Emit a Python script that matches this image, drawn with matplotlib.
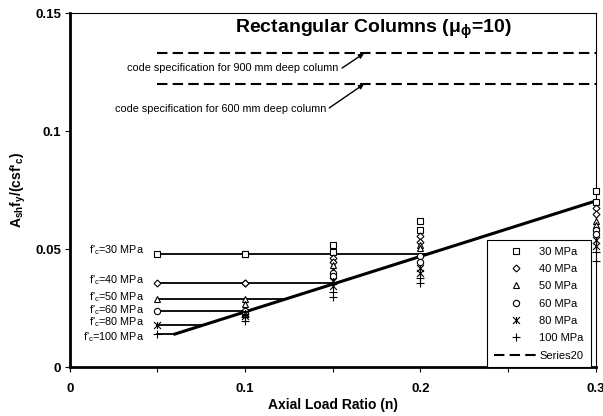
import matplotlib
matplotlib.use("Agg")
import matplotlib.pyplot as plt
from matplotlib.path import Path

plt.rcParams["font.family"] = ["Liberation Sans", "DejaVu Sans"]
plt.rcParams["mathtext.fontset"] = "custom"
plt.rcParams["mathtext.rm"] = "Liberation Sans"
plt.rcParams["mathtext.it"] = "Liberation Sans"
plt.rcParams["mathtext.bf"] = "Liberation Sans:bold"

# ── Data ──────────────────────────────────────────────────────────────────────
FC_LABELS = ["30 MPa", "40 MPa", "50 MPa", "60 MPa", "80 MPa", "100 MPa"]
FC_TEXT = ["f'$_c$=30 MPa", "f'$_c$=40 MPa", "f'$_c$=50 MPa",
           "f'$_c$=60 MPa", "f'$_c$=80 MPa", "f'$_c$=100 MPa"]

# horizontal (strength-governed) part of each curve
LINE_START = 0.05
LINE_LEVEL = [0.0479, 0.0357, 0.0288, 0.0240, 0.0178, 0.0141]
LINE_END = [0.204, 0.152, 0.123, 0.102, 0.076, 0.060]
LABEL_Y = [0.0498, 0.0370, 0.0299, 0.0243, 0.0190, 0.0130]

# axial-load governed line
DIAG_N = [0.06, 0.3]
DIAG_Y = [0.0141, 0.0705]

# code specification (Series20)
SPEC_N = [0.05, 0.3]
SPEC_900 = 0.133
SPEC_600 = 0.120

# computed points
N_PTS = [0.05, 0.1, 0.1, 0.15, 0.15, 0.2, 0.2, 0.3, 0.3]
Y_30 = [0.0479, 0.0479, 0.0479, 0.0520, 0.0490, 0.0618, 0.0582, 0.0748, 0.0700]
Y_40 = [0.0357, 0.0357, 0.0357, 0.0463, 0.0445, 0.0555, 0.0530, 0.0675, 0.0650]
Y_50 = [0.0288, 0.0288, 0.0268, 0.0433, 0.0410, 0.0518, 0.0505, 0.0620, 0.0605]
Y_60 = [0.0240, 0.0240, 0.0228, 0.0400, 0.0385, 0.0470, 0.0445, 0.0580, 0.0565]
Y_80 = [0.0178, 0.0232, 0.0218, 0.0365, 0.0345, 0.0420, 0.0400, 0.0540, 0.0515]
Y_100 = [0.0141, 0.0212, 0.0195, 0.0320, 0.0298, 0.0378, 0.0358, 0.0490, 0.0450]
Y_ALL = [Y_30, Y_40, Y_50, Y_60, Y_80, Y_100]

# star marker: x with a vertical bar
STAR = Path([(-1, -1), (1, 1), (-1, 1), (1, -1), (0, -1), (0, 1)],
            [Path.MOVETO, Path.LINETO, Path.MOVETO, Path.LINETO,
             Path.MOVETO, Path.LINETO])
MARKERS = ["s", "D", "^", "o", STAR, "+"]
MSIZES = [5, 3.5, 4.5, 4.5, 5, 6]

# ── Plot ──────────────────────────────────────────────────────────────────────
fig = plt.figure(figsize=(6.03, 4.16), dpi=100)
ax = fig.add_axes([0.1156, 0.117, 0.8724, 0.851])

ax.plot(DIAG_N, DIAG_Y, color="black", lw=2.2, zorder=2)

handles = []
for i, lab in enumerate(FC_LABELS):
    ax.plot([LINE_START, LINE_END[i]], [LINE_LEVEL[i], LINE_LEVEL[i]],
            color="black", lw=1.3, zorder=2)
    h, = ax.plot(N_PTS, Y_ALL[i], ls="none", marker=MARKERS[i], ms=MSIZES[i],
                 mfc="white", mec="black", mew=0.8, color="black",
                 label=lab, zorder=6, clip_on=False)
    handles.append(h)
    ax.text(0.0425, LABEL_Y[i], FC_TEXT[i], ha="right", va="center",
            fontsize=7.8)

for yv in (SPEC_900, SPEC_600):
    h, = ax.plot(SPEC_N, [yv, yv], color="black", lw=1.5, dashes=(5, 2.5),
                 label="Series20")
handles.append(h)

ax.text(0.577, 0.955, r"Rectangular Columns ($\mathbf{\mu_\phi}$=10)",
        transform=ax.transAxes, ha="center", va="center",
        fontsize=14, fontweight="bold")

# annotation texts and arrows
ax.text(0.1535, 0.1268, "code specification for 900 mm deep column",
        ha="right", va="center", fontsize=7.8)
ax.text(0.1465, 0.1095, "code specification for 600 mm deep column",
        ha="right", va="center", fontsize=7.8)
arrow = dict(arrowstyle="-|>", color="black", lw=1, mutation_scale=7,
             shrinkA=0, shrinkB=0)
ax.annotate("", xy=(0.1678, SPEC_900), xytext=(0.1553, 0.1268),
            arrowprops=arrow)
ax.annotate("", xy=(0.1678, SPEC_600), xytext=(0.1480, 0.1099),
            arrowprops=arrow)

ax.set_xlim(0, 0.3)
ax.set_ylim(0, 0.15)
ax.set_xticks([0, 0.05, 0.1, 0.15, 0.2, 0.25, 0.3])
ax.set_xticklabels(["0", "", "0.1", "", "0.2", "", "0.3"])
ax.set_yticks([0, 0.05, 0.1, 0.15])
ax.set_yticklabels(["0", "0.05", "0.1", "0.15"])
ax.tick_params(labelsize=9.5, length=3.6, width=0.8, direction="out", pad=2.5)
ax.tick_params(axis="x", pad=8)
for t in ax.get_xticklabels() + ax.get_yticklabels():
    t.set_fontweight("bold")

for s in ("left", "bottom"):
    ax.spines[s].set_linewidth(2)
for s in ("top", "right"):
    ax.spines[s].set_linewidth(0.8)

ax.set_xlabel("Axial Load Ratio (n)", fontsize=10, fontweight="bold", labelpad=2)
ax.set_ylabel(r"A$_{\mathbf{sh}}$f$_{\mathbf{y}}$/(csf'$_{\mathbf{c}}$)",
              fontsize=10, fontweight="bold", labelpad=5)

leg = ax.legend(handles=handles, loc="lower right", bbox_to_anchor=(0.99, 0.0),
                borderaxespad=0, fontsize=8, frameon=True, fancybox=False,
                edgecolor="black", framealpha=1, labelspacing=0.66,
                handlelength=4.0, handletextpad=0.1, borderpad=0.6)
leg.get_frame().set_linewidth(0.8)
leg.set_zorder(5)

fig.savefig("out.png", dpi=100)
